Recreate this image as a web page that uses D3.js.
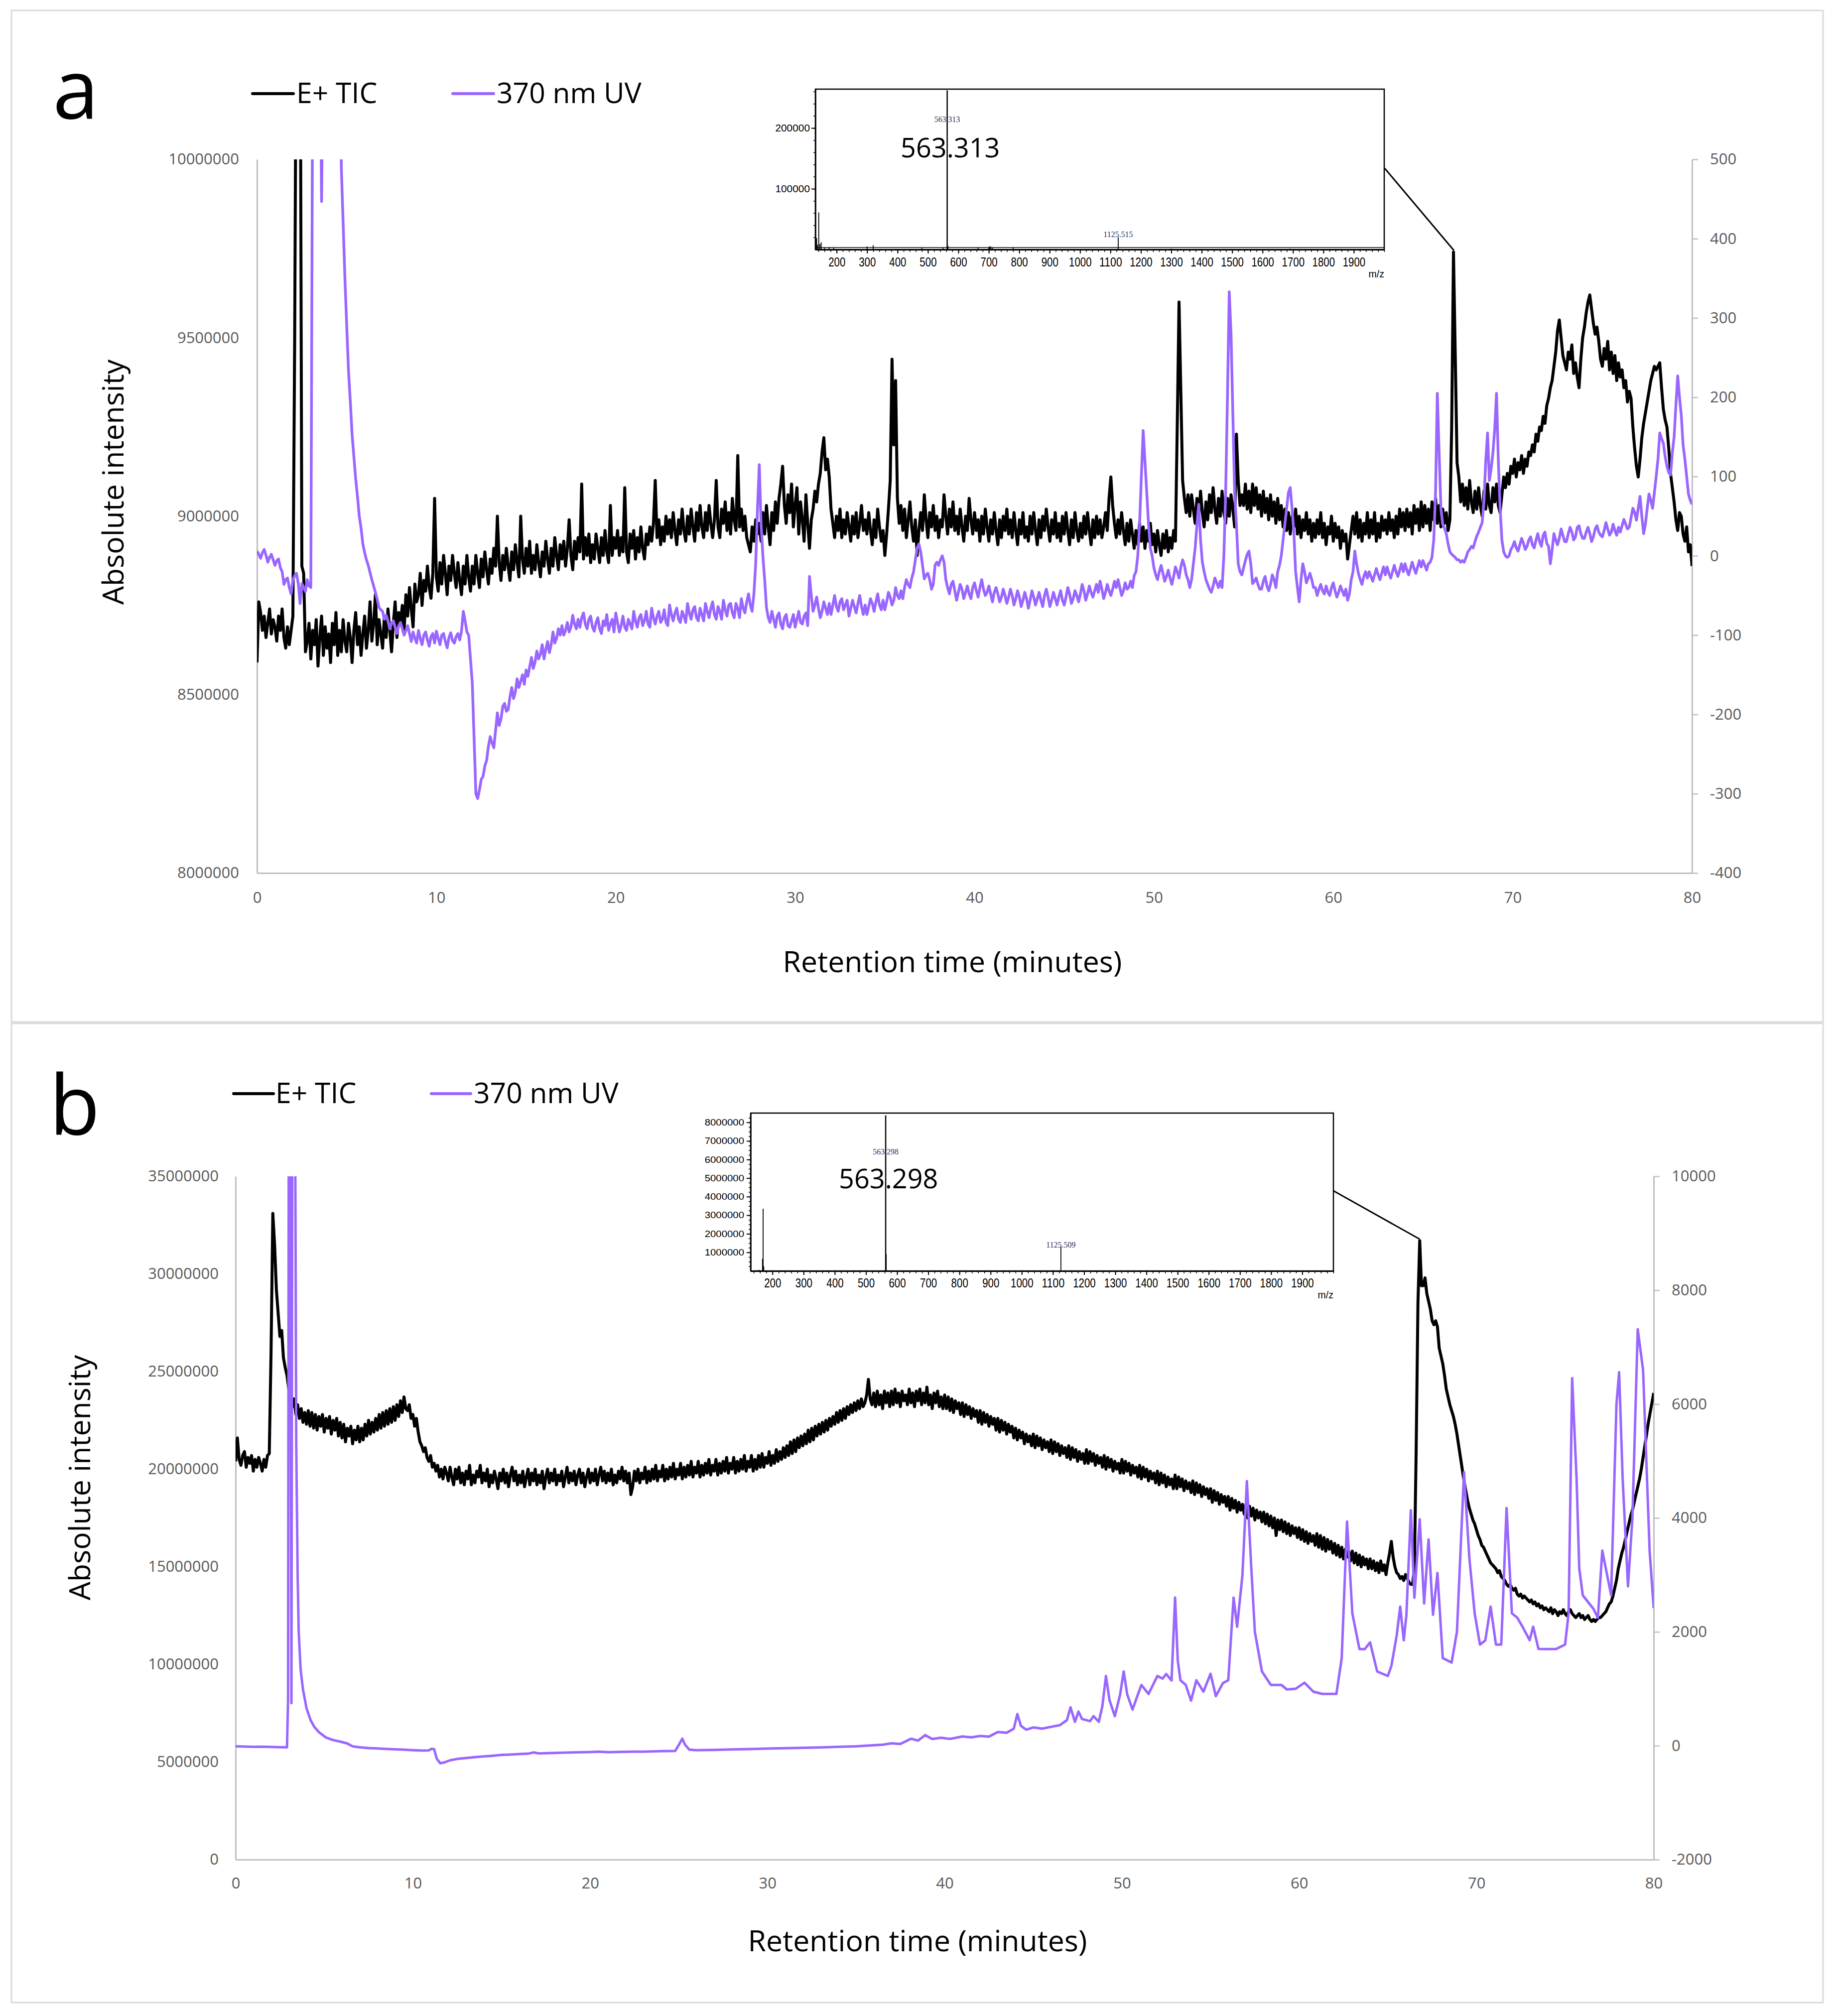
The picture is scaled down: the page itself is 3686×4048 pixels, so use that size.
<!DOCTYPE html>
<html><head><meta charset="utf-8">
<script src="https://cdn.jsdelivr.net/npm/d3@7"></script>
<style>body{margin:0;background:#fff}</style>
</head><body><svg id="c" width="3686" height="4048"></svg>
<script>
// ---------------- DATA ----------------
const xTicks = [0,10,20,30,40,50,60,70,80];
const leftTicksA = [8000000,8500000,9000000,9500000,10000000];
const rightTicksA = [-400,-300,-200,-100,0,100,200,300,400,500];
const leftTicksB = [0,5000000,10000000,15000000,20000000,25000000,30000000,35000000];
const rightTicksB = [-2000,0,2000,4000,6000,8000,10000];
const seriesNames = ["E+ TIC","370 nm UV"];

// sampling interval of the chromatograms (minutes); sample i is at i*tStep
const tStep = 0.1;
// panel a, E+ TIC, in units of 10 000 counts (872 = 8 720 000); one row per minute
const ticA = [
859,876,873,868,872,866,870,874,867,871,
869,865,872,868,874,866,863,869,864,868,
872,950,1060,1060,1060,886,884,862,865,870,
860,868,864,871,858,866,872,861,869,863,
867,859,870,864,873,861,868,862,871,865,
862,870,866,859,868,873,864,869,861,867,
872,863,868,876,865,870,878,864,871,867,
863,872,866,874,868,862,870,876,866,873,
870,875,868,878,872,880,874,869,881,876,
878,884,875,882,879,886,880,877,884,905,
883,879,887,881,889,884,878,886,882,889,
884,880,887,882,878,886,881,889,883,879,
886,881,889,884,880,888,883,890,885,881,
888,884,891,886,900,887,882,889,885,891,
886,882,890,885,892,887,883,900,888,884,
891,886,893,884,889,885,892,887,883,890,
886,893,888,884,891,886,894,889,885,892,
888,893,886,891,899,889,885,893,888,894,
890,909,888,894,889,895,887,892,888,895,
891,887,894,889,896,890,887,903,889,894,
891,896,889,894,890,908,890,887,895,891,
896,888,894,890,897,891,888,895,892,897,
893,898,910,894,899,892,897,893,900,895,
899,894,901,896,892,899,895,902,896,893,
900,895,902,897,893,901,896,903,897,894,
901,896,903,898,894,899,910,897,894,902,
898,904,896,901,895,905,899,896,917,897,
902,896,900,894,892,890,897,893,899,895,
898,893,901,895,903,897,892,901,896,904,
898,905,909,914,903,898,906,901,909,897,
903,908,895,904,899,893,906,898,891,899,
902,907,904,909,912,918,922,913,916,911,
902,898,894,900,896,902,894,899,895,901,
897,893,900,895,901,894,898,903,896,899,
895,901,896,892,899,894,902,897,893,896,
889,895,902,910,944,920,938,905,898,903,
896,902,894,899,904,897,893,899,889,896,
901,896,906,899,894,901,897,903,896,900,
894,899,897,906,900,895,902,897,904,896,
900,895,902,897,893,900,896,905,899,895,
901,896,899,893,900,895,902,897,893,899,
895,901,896,892,899,894,900,896,902,895,
899,894,901,896,892,899,895,901,894,897,
893,900,895,901,896,892,899,894,900,896,
902,897,893,899,895,901,894,898,893,900,
895,901,896,892,899,894,901,896,893,898,
894,900,895,901,896,892,899,894,900,895,
899,894,897,901,896,905,911,903,898,894,
899,895,901,896,892,898,893,899,895,891,
896,892,898,893,897,891,896,893,898,892,
895,890,896,892,889,895,891,896,890,894,
891,896,893,925,960,935,910,905,901,906,
900,906,902,898,905,900,907,901,897,904,
899,906,901,908,902,898,905,900,907,901,
898,905,900,906,902,897,923,910,903,906,
903,909,902,907,901,909,903,908,902,906,
900,907,901,905,899,906,900,904,898,905,
899,903,897,902,896,901,895,900,897,902,
895,900,894,899,896,901,895,899,893,898,
894,899,895,901,894,898,892,897,895,900,
893,898,894,897,891,896,893,895,888,892,
896,900,895,901,894,899,893,898,895,901,
894,899,895,901,893,898,894,900,896,899,
895,901,896,899,894,900,895,902,897,901,
896,902,897,901,895,903,898,902,896,904,
897,903,898,902,896,904,899,905,898,903,
897,902,898,901,896,899,925,974,945,915,
911,904,909,903,908,902,910,904,901,907,
902,908,903,900,907,902,909,903,901,908,
904,909,903,901,906,911,908,912,909,914,
912,916,911,915,913,917,912,916,914,918,
917,920,918,923,921,925,924,928,926,931,
933,936,938,942,946,952,955,950,945,943,
941,946,944,948,940,943,939,936,944,950,
953,957,960,962,958,954,951,953,949,944,
942,947,944,949,941,946,940,945,938,943,
939,941,936,938,932,935,933,925,919,914,
911,916,922,926,929,932,935,938,940,942,
941,942,943,936,930,927,925,919,912,908,
904,899,896,901,900,895,893,897,890,892,
886];

// panel a, 370 nm UV (mAU); one row per minute
const uvA = [
6,2,-3,4,8,1,-8,-2,2,-5,
-12,-6,-4,-15,-20,-36,-30,-28,-40,-48,
-30,-25,-22,-35,-60,-35,-40,-45,-30,-38,
-40,600,700,700,700,700,447,700,700,700,
700,700,700,700,700,700,700,490,420,350,
290,233,195,153,125,97,75,50,35,15,
4,-5,-12,-21,-30,-38,-46,-55,-65,-68,
-70,-80,-75,-82,-92,-85,-82,-90,-98,-88,
-84,-92,-100,-94,-88,-98,-108,-96,-104,-110,
-94,-104,-112,-100,-96,-106,-114,-102,-98,-110,
-95,-104,-112,-100,-98,-108,-116,-103,-97,-107,
-110,-102,-98,-106,-95,-70,-82,-96,-100,-130,
-160,-230,-300,-306,-295,-282,-278,-265,-258,-240,
-228,-236,-242,-220,-198,-214,-206,-190,-186,-196,
-194,-178,-166,-180,-172,-155,-166,-158,-150,-162,
-144,-152,-140,-128,-142,-134,-120,-130,-124,-112,
-130,-118,-108,-122,-112,-96,-110,-104,-92,-100,
-88,-100,-94,-84,-96,-90,-75,-86,-92,-80,
-90,-78,-72,-86,-92,-80,-76,-90,-95,-84,
-78,-92,-98,-82,-88,-74,-94,-86,-80,-96,
-72,-84,-96,-88,-76,-90,-94,-80,-86,-92,
-70,-82,-90,-78,-74,-88,-82,-70,-86,-90,
-66,-78,-86,-76,-70,-84,-80,-68,-84,-88,
-62,-74,-82,-72,-66,-80,-84,-70,-76,-84,
-60,-72,-80,-68,-64,-78,-82,-66,-74,-82,
-60,-70,-78,-66,-58,-74,-80,-64,-70,-80,
-56,-68,-76,-62,-60,-72,-78,-60,-66,-78,
-54,-66,-72,-58,-48,-62,-70,-48,-10,60,
115,40,0,-30,-65,-78,-84,-70,-80,-90,
-76,-72,-86,-92,-78,-74,-88,-90,-82,-74,
-90,-80,-70,-84,-86,-76,-72,-88,-26,-50,
-70,-62,-52,-66,-78,-70,-58,-66,-74,-60,
-74,-62,-50,-64,-70,-58,-54,-68,-62,-56,
-76,-66,-56,-64,-72,-60,-50,-64,-74,-62,
-74,-64,-54,-60,-70,-58,-48,-62,-68,-56,
-68,-58,-46,-52,-62,-56,-40,-50,-54,-44,
-54,-40,-30,-36,-40,-28,-20,-5,10,15,
5,-12,-29,-24,-22,-30,-42,-36,-12,-8,
-12,-5,0,-8,-30,-40,-48,-36,-32,-44,
-56,-46,-36,-42,-54,-46,-38,-48,-54,-40,
-34,-44,-52,-40,-30,-42,-50,-46,-38,-48,
-58,-46,-40,-48,-58,-52,-42,-50,-60,-52,
-42,-50,-62,-54,-44,-52,-64,-56,-46,-54,
-66,-56,-44,-52,-62,-54,-46,-56,-64,-50,
-42,-52,-64,-56,-46,-54,-62,-52,-44,-56,
-62,-52,-40,-48,-60,-54,-44,-50,-58,-48,
-36,-44,-56,-48,-38,-46,-52,-44,-36,-46,
-32,-42,-54,-46,-36,-44,-50,-42,-32,-40,
-30,-40,-50,-44,-34,-42,-40,-32,-40,-25,
-20,0,40,100,158,120,80,40,10,0,
-15,-24,-30,-20,-12,-22,-32,-26,-18,-28,
-36,-26,-14,-20,-28,-14,-5,-12,-24,-30,
-40,-30,-10,10,40,65,20,-8,-20,-30,
-36,-42,-46,-38,-28,-34,-40,-32,-40,0,
80,200,333,280,180,80,40,-10,-20,-24,
-15,-6,2,6,-10,-35,-32,-28,-36,-42,
-42,-32,-26,-38,-44,-36,-24,-30,-40,-20,
-12,0,20,40,60,80,86,60,30,-20,
-40,-58,-30,-10,-20,-34,-28,-22,-30,-40,
-40,-50,-42,-36,-44,-48,-38,-46,-50,-40,
-34,-44,-52,-46,-38,-44,-50,-42,-56,-48,
-30,-20,6,-10,-22,-30,-36,-26,-20,-28,
-20,-26,-32,-24,-16,-24,-30,-22,-14,-24,
-14,-22,-28,-20,-12,-20,-26,-18,-10,-20,
-10,-18,-24,-16,-8,-16,-22,-14,-6,-14,
-6,-12,-18,-10,-8,-2,20,80,205,130,
60,40,35,28,15,5,2,0,-2,-5,
-5,-8,-6,-8,-2,5,8,12,10,18,
25,30,36,42,70,120,155,95,110,130,
160,205,120,60,20,5,0,-2,0,8,
12,18,10,6,14,22,16,8,12,20,
24,14,10,20,28,18,12,26,30,16,
12,-10,8,28,20,14,22,34,26,18,
18,28,36,30,20,24,36,38,28,22,
22,30,36,28,18,24,34,38,30,26,
24,32,42,34,26,30,40,32,26,36,
30,38,46,40,34,36,48,60,55,45,
60,75,50,28,40,60,78,70,60,80,
100,122,155,148,142,125,113,105,102,130,
150,190,227,200,177,140,122,100,78,70,
65];

// panel b, E+ TIC, in units of 100 000 counts (204 = 20 400 000); one row per minute
const ticB = [
204,216,205,202,207,209,201,206,203,207,
199,205,201,206,203,199,205,201,207,208,
260,331,315,292,280,268,271,257,252,248,
241,236,232,236,228,233,226,231,224,229,
223,230,222,229,221,228,220,227,222,228,
219,226,221,227,218,225,220,226,217,224,
216,223,214,221,217,222,213,220,215,222,
214,221,215,223,217,225,218,224,219,226,
220,228,221,229,222,230,223,231,224,232,
225,233,227,235,229,237,231,230,233,226,
228,222,226,219,214,212,209,211,206,204,
207,201,203,199,202,196,200,195,201,198,
194,201,196,192,200,195,201,193,198,192,
199,195,202,192,197,193,199,196,202,193,
198,194,200,191,197,193,199,195,190,198,
194,200,193,198,191,197,201,194,199,192,
197,193,199,191,196,200,192,198,194,200,
192,197,193,199,190,196,200,193,198,194,
200,192,197,194,199,191,196,201,193,198,
194,199,192,197,200,193,198,191,196,200,
193,198,194,200,192,197,201,194,199,193,
198,194,200,192,197,193,199,195,201,194,
199,193,198,187,191,199,194,200,193,198,
195,201,193,199,194,200,195,202,194,199,
196,202,194,200,195,201,196,203,195,200,
197,203,195,201,196,202,197,204,196,201,
198,204,196,202,197,203,198,205,197,202,
199,205,197,203,198,204,199,206,198,203,
200,206,198,204,199,205,200,207,199,204,
201,207,199,205,200,207,201,208,201,206,
203,209,202,207,203,210,204,209,205,211,
206,212,207,214,208,215,209,216,211,217,
212,218,213,220,214,221,215,222,217,223,
218,224,219,225,220,226,222,227,223,229,
224,230,225,231,226,232,228,233,229,234,
230,235,231,236,232,234,238,246,236,233,
239,232,240,233,238,231,240,234,239,232,
240,233,241,234,239,232,240,235,238,233,
241,234,239,232,240,235,241,233,239,234,
242,233,238,231,239,234,240,232,237,231,
238,231,237,230,236,229,235,231,234,228,
234,227,233,228,232,226,231,227,230,224,
230,223,229,224,228,222,227,223,226,220,
226,219,225,220,224,218,223,219,222,216,
221,215,220,216,219,213,218,214,217,212,
218,211,217,212,216,210,215,211,214,209,
215,208,214,209,213,207,212,208,211,206,
212,205,211,206,210,204,209,205,208,203,
210,203,209,204,208,202,207,203,206,201,
207,200,206,201,205,199,204,200,203,198,
205,198,204,199,203,197,202,198,201,196,
202,195,201,196,200,194,199,195,198,193,
199,192,198,193,197,191,196,192,195,190,
197,190,196,191,195,189,194,190,193,188,
194,187,193,188,192,186,191,187,190,185,
190,183,189,184,188,182,187,183,186,181,
186,179,185,180,184,178,183,179,182,177,
182,175,181,176,180,174,179,175,178,173,
178,172,177,171,176,170,175,166,174,169,
174,168,173,167,172,166,171,167,170,165,
170,164,169,163,168,162,167,163,166,161,
167,160,166,159,165,158,164,159,163,157,
162,156,161,155,160,154,159,155,158,153,
158,152,157,151,156,150,155,151,154,149,
154,149,153,148,152,147,153,148,151,146,
152,157,163,155,150,147,146,144,145,143,
146,144,142,141,141,150,210,285,317,294,
294,298,290,286,282,276,274,276,273,262,
258,254,248,241,237,233,230,227,223,218,
212,206,200,194,189,184,180,177,174,172,
169,166,164,161,160,158,156,154,152,151,
150,149,147,148,145,144,143,141,140,141,
139,138,139,136,135,136,134,135,134,133,
132,133,131,132,130,131,129,130,128,129,
128,127,129,126,128,127,125,127,126,128,
126,125,127,128,126,125,124,125,126,124,
125,123,124,125,123,122,123,122,123,124,
124,125,126,127,129,131,132,135,139,143,
149,153,157,160,164,168,172,176,179,183,
187,191,195,200,206,212,218,224,229,234,
239];

// panel b, 370 nm UV (mAU), [minutes, value]
const uvB = [[0,-10],[0.5,-14],[1,-18],[1.5,-16],[2,-22],[2.5,-26],[2.9,-28],[2.96,800],[3.0,11000],[3.09,11000],[3.15,746],[3.2,11000],[3.36,11000],[3.42,5347],[3.5,3000],[3.56,1997],[3.67,1332],[3.8,991],[4.0,659],[4.23,449],[4.45,327],[4.7,239],[5.1,143],[5.5,100],[5.9,73],[6.3,40],[6.6,-11],[7.0,-28],[7.5,-40],[8.0,-48],[8.5,-56],[9.0,-62],[9.5,-70],[10.0,-78],[10.5,-84],[10.9,-82],[11.05,-55],[11.2,-60],[11.35,-230],[11.55,-309],[11.8,-290],[12.1,-255],[12.5,-232],[13,-215],[13.5,-200],[14,-188],[14.5,-176],[15,-162],[16,-146],[16.5,-140],[16.8,-118],[17.1,-135],[18,-126],[19,-118],[20,-110],[20.5,-104],[21,-112],[22,-106],[23,-104],[24,-96],[24.8,-92],[25.05,40],[25.2,124],[25.35,20],[25.6,-70],[26,-78],[27,-74],[28,-64],[29,-58],[30,-50],[31,-44],[32,-36],[33,-30],[34,-18],[35,-10],[35.8,5],[36.5,18],[37,42],[37.5,32],[38.1,124],[38.5,90],[38.9,187],[39.3,118],[39.8,140],[40.3,120],[41,163],[41.5,148],[42,172],[42.5,160],[43,242],[43.5,228],[43.9,300],[44.1,556],[44.3,350],[44.6,282],[45,322],[45.5,300],[46,332],[46.5,362],[46.9,450],[47.1,674],[47.35,420],[47.55,600],[47.75,470],[48.2,432],[48.4,520],[48.7,420],[48.9,700],[49.1,1225],[49.3,800],[49.6,520],[49.9,900],[50.1,1304],[50.3,900],[50.6,635],[50.9,900],[51.1,1068],[51.5,910],[52,1225],[52.3,1180],[52.5,1260],[52.8,1146],[53.0,2602],[53.15,1500],[53.3,1150],[53.6,1068],[53.9,792],[54.2,1150],[54.6,950],[55.0,1264],[55.3,871],[55.7,1100],[56.0,1150],[56.3,2600],[56.5,2090],[56.8,3000],[57.05,4647],[57.3,3113],[57.5,2000],[57.9,1304],[58.4,1068],[59.0,1068],[59.3,989],[59.8,1000],[60.3,1107],[60.8,950],[61.3,910],[62.1,910],[62.4,1540],[62.7,3939],[63.0,2326],[63.4,1697],[63.7,1697],[64.0,1815],[64.4,1304],[65.0,1225],[65.2,1400],[65.5,1933],[65.7,2444],[65.9,1850],[66.05,2300],[66.3,4135],[66.5,2600],[66.8,3978],[67.05,2500],[67.3,3624],[67.55,2300],[67.8,3034],[68.1,1540],[68.6,1461],[68.9,2000],[69.3,4804],[69.6,3300],[69.9,2326],[70.2,1776],[70.5,1850],[70.8,2444],[71.1,1776],[71.4,1776],[71.7,4175],[72.0,2326],[72.3,2250],[72.6,2090],[73.0,1854],[73.2,2090],[73.5,1700],[74.0,1697],[74.5,1700],[75.0,1776],[75.2,2326],[75.4,6456],[75.65,4686],[75.8,3113],[76.0,2641],[76.6,2405],[76.85,2247],[77.1,3427],[77.3,3113],[77.6,2641],[77.9,6000],[78.05,6560],[78.25,4686],[78.55,2800],[78.8,4000],[79.1,7314],[79.4,6601],[79.77,3423],[80,2417]];

// inset mass spectra, [m/z, intensity]
const insetXTicks = [200,300,400,500,600,700,800,900,1000,1100,1200,1300,1400,1500,1600,1700,1800,1900];
const insetYTicksA = [100000,200000];
const insetYTicksB = [1000000,2000000,3000000,4000000,5000000,6000000,7000000,8000000];
const specA = [[131,15000],[134,19000],[137,8000],[141,61000],[145,9000],[149,12000],[160,3000],[175,4000],[190,2500],[300,5000],[320,7000],[480,2500],[550,3000],[563.313,262000],[566,6000],[665,3000],[700,3500],[703,5500],[707,4500],[712,3000],[780,3000],[1125.515,20000],[1300,1500],[1690,1500]];
const specB = [[150,40000],[158,60000],[168,650000],[170,3350000],[172,250000],[563.298,8380000],[565,900000],[1125.509,1290000],[1690,30000]];
const peakLabelsA = ["563.313","1125.515"];
const peakLabelsB = ["563.298","1125.509"];

// ---------------- DRAW ----------------
const FONT = "'Open Sans', sans-serif";
const NARROW = "'Liberation Sans Narrow','Liberation Sans',Arial,sans-serif";
const PURPLE = "#9966ff";
const svg = d3.select("#c");
svg.append("rect").attr("width",3686).attr("height",4048).attr("fill","#fff");

svg.append("rect").attr("x",23).attr("y",21).attr("width",3637).attr("height",2031)
  .attr("fill","none").attr("stroke","#d9d9d9").attr("stroke-width",3);
svg.append("rect").attr("x",23).attr("y",2055).attr("width",3637).attr("height",1966)
  .attr("fill","none").attr("stroke","#d9d9d9").attr("stroke-width",3);

const toPairs = (arr, unit) => arr.map((v,i) => [i*tStep, v*unit]);

function styleAxis(g, fs) {
  g.attr("font-family", FONT).attr("font-size", fs);
  g.selectAll("text").attr("fill", "#595959");
  g.select(".domain").attr("stroke", "#bfbfbf").attr("stroke-width", 3);
  g.selectAll(".tick line").attr("stroke", "#bfbfbf").attr("stroke-width", 2.5);
}

function drawPanel(p) {
  const x = d3.scaleLinear().domain([0,80]).range([p.x0,p.x1]);
  const yL = d3.scaleLinear().domain(p.lDom).range([p.y1,p.y0]);
  const yR = d3.scaleLinear().domain(p.rDom).range([p.y1,p.y0]);
  const g = svg.append("g");
  g.append("clipPath").attr("id",p.id).append("rect")
    .attr("x",p.x0).attr("y",p.y0).attr("width",p.x1-p.x0).attr("height",p.y1-p.y0);

  const gl = g.append("g").attr("transform",`translate(${p.x0},0)`)
    .call(d3.axisLeft(yL).tickValues(p.lTicks).tickSize(0).tickSizeOuter(0).tickPadding(p.lPad).tickFormat(d3.format("d")));
  styleAxis(gl, 31);
  const gr = g.append("g").attr("transform",`translate(${p.x1},0)`)
    .call(d3.axisRight(yR).tickValues(p.rTicks).tickSize(12).tickSizeOuter(0).tickPadding(24).tickFormat(d => d < 0 ? "-" + Math.abs(d) : String(d)));
  styleAxis(gr, 31);
  const gb = g.append("g").attr("transform",`translate(0,${p.y1})`)
    .call(d3.axisBottom(x).tickValues(xTicks).tickSize(0).tickSizeOuter(0).tickPadding(p.bPad));
  styleAxis(gb, 31);

  const lineL = d3.line().x(d=>x(d[0])).y(d=>yL(d[1]));
  const lineR = d3.line().x(d=>x(d[0])).y(d=>yR(d[1]));
  g.append("path").datum(p.tic).attr("d",lineL).attr("fill","none").attr("stroke","#000")
    .attr("stroke-width",p.wTic).attr("stroke-linejoin","round").attr("clip-path",`url(#${p.id})`);
  g.append("path").datum(p.uv).attr("d",lineR).attr("fill","none").attr("stroke",PURPLE)
    .attr("stroke-width",p.wUv).attr("stroke-linejoin","round").attr("clip-path",`url(#${p.id})`);

  g.append("text").attr("transform",`translate(${p.ytX},${p.ytY}) rotate(-90)`)
    .attr("text-anchor","middle").attr("dy","0.35em").attr("font-family",FONT).attr("font-size",59)
    .attr("fill","#000").text("Absolute intensity");
  g.append("text").attr("x",p.xtX).attr("y",p.xtY).attr("text-anchor","middle")
    .attr("font-family",FONT).attr("font-size",59).attr("fill","#000").text("Retention time (minutes)");
  g.append("text").attr("x",p.lx).attr("y",p.ly).attr("font-family",FONT).attr("font-size",166)
    .attr("fill","#000").text(p.letter);
  const cols = ["#000", PURPLE];
  p.leg.forEach((L,i) => {
    g.append("line").attr("x1",L[0]).attr("x2",L[1]).attr("y1",p.legY).attr("y2",p.legY)
      .attr("stroke",cols[i]).attr("stroke-width",6).attr("stroke-linecap","round");
    g.append("text").attr("x",L[2]).attr("y",p.legY+19).attr("font-family",FONT).attr("font-size",57)
      .attr("fill","#000").text(seriesNames[i]);
  });
  g.append("line").attr("x1",p.call[0]).attr("y1",p.call[1]).attr("x2",p.call[2]).attr("y2",p.call[3])
    .attr("stroke","#000").attr("stroke-width",3);
}

function narrowText(sel, fs, ratio) {
  sel.attr("font-family",NARROW).attr("font-size",fs).attr("fill","#000")
    .each(function(){ const t=d3.select(this).text(); d3.select(this).attr("textLength", t.length*ratio*fs).attr("lengthAdjust","spacingAndGlyphs"); });
}

function drawInset(q) {
  const g = svg.append("g");
  g.append("rect").attr("x",q.x0).attr("y",q.y0).attr("width",q.x1-q.x0).attr("height",q.y1-q.y0)
    .attr("fill","#fff").attr("stroke","#000").attr("stroke-width",2.5);
  const xs = d3.scaleLinear().domain([130,2000]).range([q.x0,q.x1]);
  const ys = d3.scaleLinear().domain([0,q.yMax]).range([q.y1,q.y0]);
  g.append("g").attr("transform",`translate(0,${q.y1})`)
    .call(d3.axisBottom(xs).tickValues(d3.range(140,2001,20)).tickSize(5).tickSizeOuter(0).tickFormat(""))
    .call(a=>{a.select(".domain").remove(); a.selectAll("line").attr("stroke","#000").attr("stroke-width",1.5);});
  g.append("g").attr("transform",`translate(${q.x0},0)`)
    .call(d3.axisLeft(ys).tickValues(d3.range(q.yMinor, q.yMax, q.yMinor)).tickSize(4).tickSizeOuter(0).tickFormat(""))
    .call(a=>{a.select(".domain").remove(); a.selectAll("line").attr("stroke","#000").attr("stroke-width",1.5);});
  const gx = g.append("g").attr("transform",`translate(0,${q.y1})`)
    .call(d3.axisBottom(xs).tickValues(insetXTicks).tickSize(8).tickSizeOuter(0).tickPadding(q.xPad).tickFormat(d3.format("d")));
  gx.select(".domain").attr("stroke","#000").attr("stroke-width",3);
  gx.selectAll(".tick line").attr("stroke","#000").attr("stroke-width",2);
  narrowText(gx.selectAll("text"), 25, 0.456);
  const gy = g.append("g").attr("transform",`translate(${q.x0},0)`)
    .call(d3.axisLeft(ys).tickValues(q.yTicks).tickSize(8).tickSizeOuter(0).tickPadding(q.yPad).tickFormat(d3.format("d")));
  gy.select(".domain").attr("stroke","#000").attr("stroke-width",2.5);
  gy.selectAll(".tick line").attr("stroke","#000").attr("stroke-width",2);
  narrowText(gy.selectAll("text"), q.yFs, q.yRatio);
  if (q.base > 0) {
    g.append("line").attr("x1",q.x0).attr("x2",q.x1).attr("y1",ys(q.base)).attr("y2",ys(q.base))
      .attr("stroke","#000").attr("stroke-width",1.5);
  }
  g.selectAll(".stick").data(q.spec).join("line").attr("class","stick")
    .attr("x1",d=>xs(d[0])).attr("x2",d=>xs(d[0])).attr("y1",ys(0)).attr("y2",d=>ys(d[1]))
    .attr("stroke","#000").attr("stroke-width",d=>d[1]>q.yMax*0.5?2.5:1.8);
  q.labels.forEach((t,i) => {
    const pk = q.spec.find(d => String(d[0]) === t);
    g.append("text").attr("x",xs(pk[0])).attr("y",q.labY[i]).attr("text-anchor","middle")
      .attr("font-family","'Liberation Serif',serif").attr("font-size",17).attr("fill","#2e2e5c")
      .attr("textLength", t.length*7.4).attr("lengthAdjust","spacingAndGlyphs").text(t);
  });
  g.append("text").attr("x",q.bigX).attr("y",q.bigY).attr("font-family",FONT).attr("font-size",54)
    .attr("fill","#000").text(q.labels[0]);
  const mz = g.append("text").attr("x",q.x1).attr("y",q.mzY).attr("text-anchor","end").text("m/z");
  narrowText(mz, 21, 0.5);
}

drawPanel({id:"ca", x0:516, x1:3397, y0:320, y1:1753, lDom:[8000000,10000000], rDom:[-400,500],
  lTicks:leftTicksA, rTicks:rightTicksA, lPad:36, bPad:38, tic:toPairs(ticA,1e4), uv:toPairs(uvA,1), wTic:6, wUv:5.5,
  ytX:227, ytY:968, xtX:1912, xtY:1952, letter:"a", lx:106, ly:238,
  legY:188, leg:[[507,589,595],[909,991,997]], call:[2780,338,2919,503]});
drawPanel({id:"cb", x0:473, x1:3320, y0:2362, y1:3734, lDom:[0,35000000], rDom:[-2000,10000],
  lTicks:leftTicksB, rTicks:rightTicksB, lPad:34, bPad:36, tic:toPairs(ticB,1e5), uv:uvB, wTic:6, wUv:5,
  ytX:160, ytY:2967, xtX:1842, xtY:3918, letter:"b", lx:99, ly:2278,
  legY:2196, leg:[[469,549,553],[866,945,951]], call:[2677,2391,2850,2488]});

drawInset({x0:1637, x1:2779, y0:179, y1:501, yMax:264000, yMinor:20000, yTicks:insetYTicksA,
  xPad:8, yPad:3, yFs:20, yRatio:0.58, base:3300, spec:specA, labels:peakLabelsA, labY:[245,476],
  bigX:1808, bigY:316, mzY:557});
drawInset({x0:1507, x1:2677, y0:2235, y1:2552, yMax:8500000, yMinor:250000, yTicks:insetYTicksB,
  xPad:7, yPad:5, yFs:18, yRatio:0.63, base:0, spec:specB, labels:peakLabelsB, labY:[2318,2505],
  bigX:1684, bigY:2386, mzY:2607});
</script></body></html>
